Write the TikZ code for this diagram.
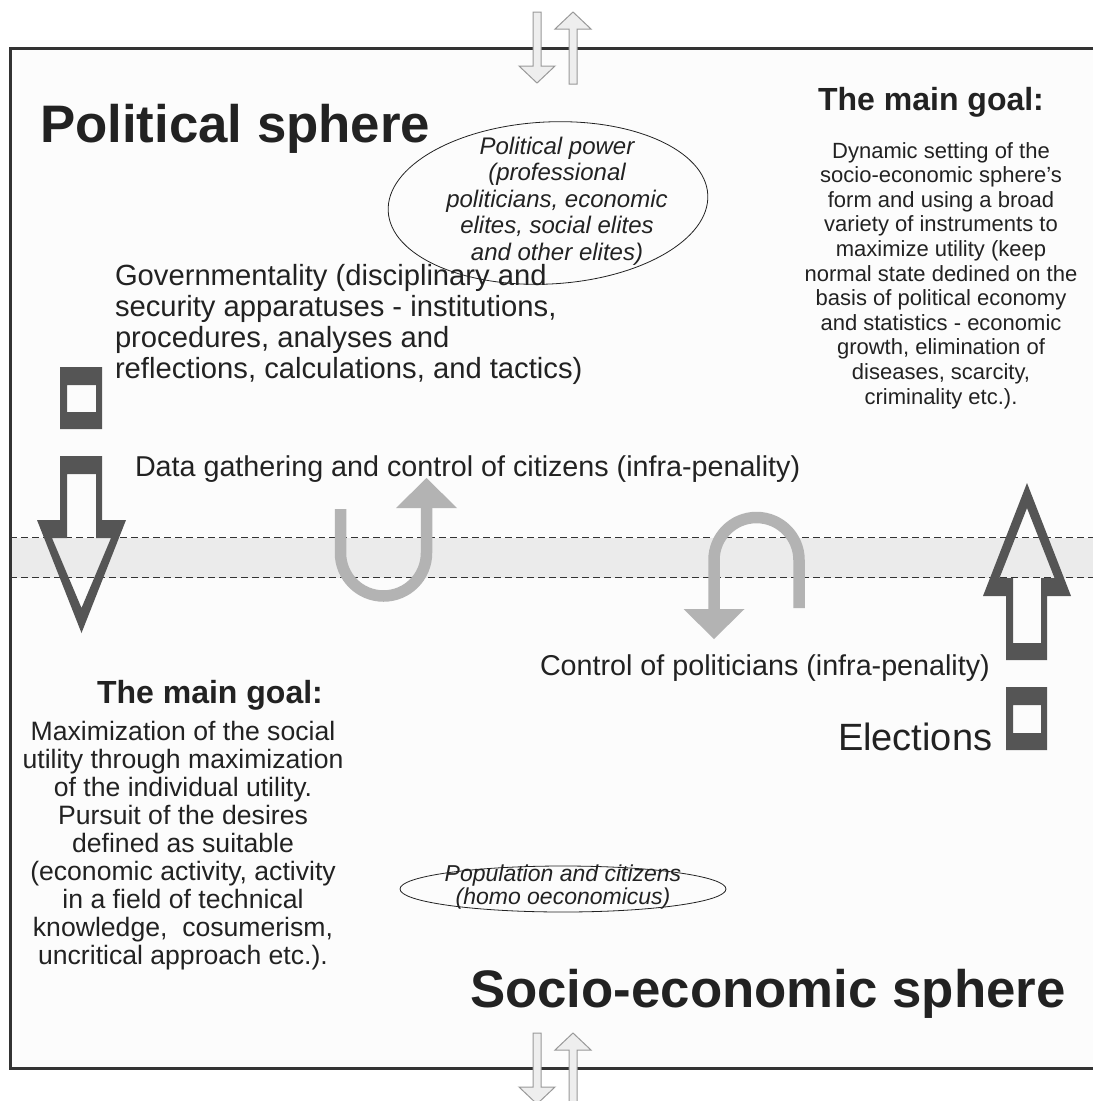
\documentclass[tikz,border=0pt]{standalone}
\usepackage{fontspec}
\setmainfont{Liberation Sans}
\usetikzlibrary{shapes.geometric}
\definecolor{ink}{HTML}{222222}
\definecolor{darkarrow}{HTML}{555555}
\definecolor{ugray}{HTML}{B3B3B3}
\definecolor{bandgray}{HTML}{EBEBEB}
\definecolor{smallfill}{HTML}{EEEEEE}
\definecolor{smalledge}{HTML}{999999}
\definecolor{framecol}{HTML}{333333}
\newcommand\fsz[2]{\fontsize{#1}{#2}\selectfont}
\begin{document}
\begin{tikzpicture}[x=1pt,y=-1pt,
  every node/.style={inner sep=0pt, outer sep=0pt, text=ink},
  txt/.style={font=\fsz{28.7}{31}},
  bigtitle/.style={font=\fsz{52.8}{60}\bfseries},
  goaltitle/.style={font=\fsz{32}{36}\bfseries},
  smallarrow/.style={fill=smallfill, draw=smalledge, line width=1pt, line join=miter},
  darkshape/.style={fill=darkarrow, even odd rule},
  uarrow/.style={draw=ugray, line width=11.5pt},
  uhead/.style={fill=ugray},
  bandline/.style={draw=framecol, line width=0.9pt, dash pattern=on 7pt off 4pt},
  framestyle/.style={draw=framecol, line width=3pt}
]
\useasboundingbox[fill=white] (0,0) rectangle (1093,1101);
\fill[fill={rgb,255:red,252;green,252;blue,252}] (10,48) rectangle (1093,1068.5);

% band
\fill[bandgray] (10,537.5) rectangle (1093,577.5);
\draw[bandline] (10,537.5) -- (1093,537.5);
\draw[bandline] (10,577.5) -- (1093,577.5);

% frame
\draw[framestyle] (1093,48) -- (10,48) -- (10,1068.5) -- (1093,1068.5);

% small arrows top
\path[smallarrow] (533,12) -- (541,12) -- (541,66) -- (555,66) -- (537,83) -- (519,66) -- (533,66) -- cycle;
\path[smallarrow] (573,12) -- (591,29) -- (577,29) -- (577,84) -- (569,84) -- (569,29) -- (555,29) -- cycle;
% small arrows bottom
\path[smallarrow] (533,1033) -- (541,1033) -- (541,1087) -- (555,1087) -- (537,1104) -- (519,1087) -- (533,1087) -- cycle;
\path[smallarrow] (573,1033) -- (591,1050) -- (577,1050) -- (577,1105) -- (569,1105) -- (569,1050) -- (555,1050) -- cycle;

% left dark arrow and square
\path[darkshape] (60,367) rectangle (102,429) (67,385) rectangle (96,412);
\path[darkshape] (60,456) -- (102,456) -- (102,520) -- (126,520) -- (81.5,633) -- (37,520) -- (60,520) -- cycle
  (67,474) -- (96,474) -- (96,538) -- (111,538) -- (81.5,608) -- (52,538) -- (67,538) -- cycle;
% right dark arrow and square
\path[darkshape] (1027,483) -- (1071,596) -- (1047,596) -- (1047,660) -- (1006,660) -- (1006,596) -- (983,596) -- cycle
  (1027,508) -- (1054.5,578) -- (1041,578) -- (1041,643) -- (1013,643) -- (1013,578) -- (999.5,578) -- cycle;
\path[darkshape] (1006,687) rectangle (1047,750) (1013,705) rectangle (1041,733);

% U arrows
\draw[uarrow] (340.5,509) -- (340.5,553) arc[start angle=180, end angle=0, radius=43] -- (426.5,507);
\fill[uhead] (396,508) -- (457,508) -- (426.5,478) -- cycle;
\draw[uarrow] (799,608) -- (799,560) arc[start angle=0, end angle=-180, radius=42.5] -- (714,610);
\fill[uhead] (683.5,609) -- (744.5,609) -- (714,639) -- cycle;

% texts
\node[bigtitle, anchor=base west] (poltitle) at (40,142) {Political sphere};
\node[bigtitle, anchor=base west] (soctitle) at (470,1007) {Socio-economic sphere};

\node[anchor=base, align=center, font=\fsz{24}{26.5}\itshape] (power) at (557,260)
  {Political power\\(professional\\politicians, economic\\elites, social elites\\and other elites)};
\draw[ink, line width=0.8pt, rotate around={3:(548,203)}] (548,203) ellipse [x radius=160, y radius=81];

\node[anchor=base west, align=left, font=\fsz{29.2}{31}] (gov) at (115,378)
  {Governmentality (disciplinary and\\security apparatuses - institutions,\\procedures, analyses and\\reflections, calculations, and tactics)};
\node[txt, anchor=base west] (data) at (135,476) {Data gathering and control of citizens (infra-penality)};
\node[txt, anchor=base west] (ctrl) at (540,675) {Control of politicians (infra-penality)};
\node[anchor=base west, font=\fsz{38}{44}] (elect) at (838,750) {Elections};

\node[goaltitle, anchor=base] (rgoal) at (931,110) {The main goal:};
\node[anchor=base, align=center, font=\fsz{22}{24.6}] (rbody) at (941,404)
  {Dynamic setting of the\\socio-economic sphere’s\\form and using a broad\\variety of instruments to\\maximize utility (keep\\normal state dedined on the\\basis of political economy\\and statistics - economic\\growth, elimination of\\diseases, scarcity,\\criminality etc.).};

\node[goaltitle, anchor=base] (lgoal) at (210,703) {The main goal:};
\node[anchor=base, align=center, font=\fsz{26.6}{27.9}] (lbody) at (183,964)
  {Maximization of the social\\utility through maximization\\of the individual utility.\\Pursuit of the desires\\defined as suitable\\(economic activity, activity\\in a field of technical\\knowledge,\ \ cosumerism,\\uncritical approach etc.).};

\node[anchor=base, align=center, font=\fsz{23}{21}\itshape] (pop) at (563,904)
  {Population and citizens\\(homo oeconomicus)};
\draw[ink, line width=0.8pt] (563,889) ellipse [x radius=163, y radius=23];
\end{tikzpicture}
\end{document}
